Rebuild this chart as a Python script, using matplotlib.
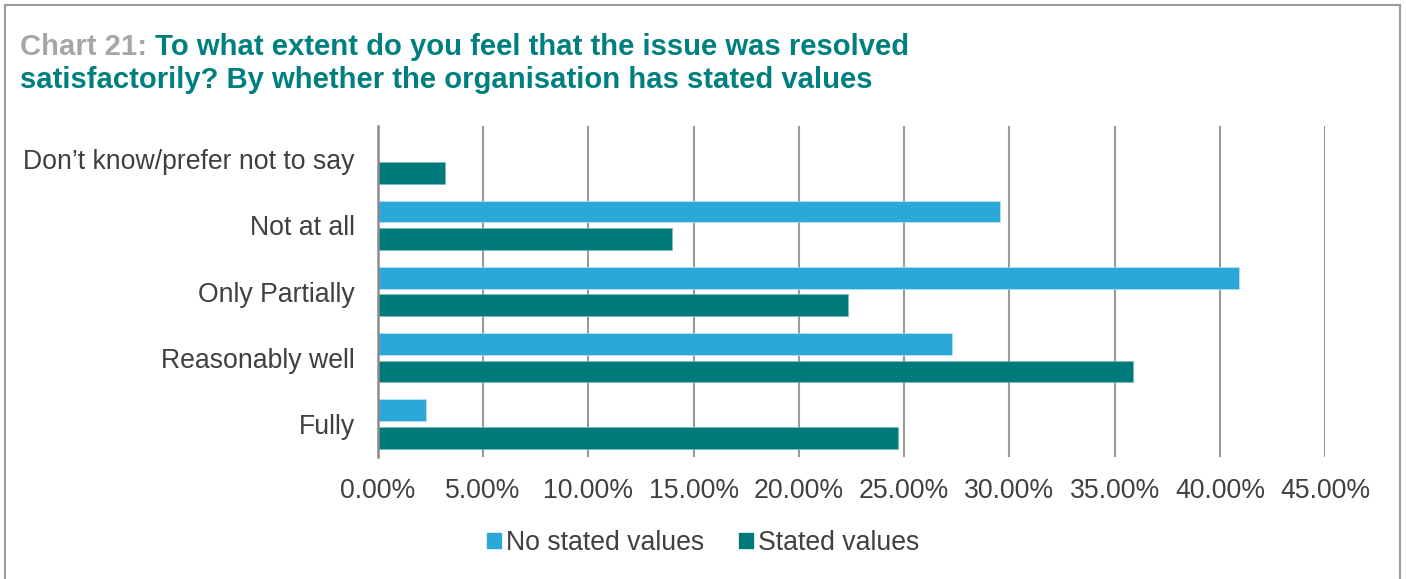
import matplotlib
matplotlib.use('Agg')
import matplotlib.pyplot as plt
import numpy as np
from matplotlib.patches import Patch, Rectangle
from matplotlib.ticker import FuncFormatter

plt.rcParams['font.family'] = ['Liberation Sans', 'DejaVu Sans']

categories = ['Don\u2019t know/prefer not to say', 'Not at all', 'Only Partially',
              'Reasonably well', 'Fully']
no_stated = [0.0, 29.55, 40.91, 27.28, 2.29]
stated = [3.21, 13.96, 22.32, 35.85, 24.71]
series_names = ['No stated values', 'Stated values']
x_ticks = [0, 5, 10, 15, 20, 25, 30, 35, 40, 45]

BLUE = '#2AA8D8'
TEAL = '#007B7B'
GRID = '#9A9A9A'
TEXT = '#404040'

fig = plt.figure(figsize=(14.06, 5.79), dpi=100)
ax = fig.add_axes([377.7 / 1406, 1 - 457 / 579, 947.7 / 1406, 331 / 579])

y = np.arange(len(categories))
h = 0.328
off = 0.209
ax.barh(y - off, no_stated, height=h, color=BLUE, edgecolor='#bfe3f1', linewidth=0.5, zorder=3)
ax.barh(y + off, stated, height=h, color=TEAL, edgecolor='#7fb8b8', linewidth=0.5, zorder=3)

ax.set_xlim(0, 45)
ax.set_ylim(len(categories) - 0.5, -0.5)
ax.set_xticks(x_ticks)
ax.xaxis.set_major_formatter(FuncFormatter(lambda v, p: f'{v:.2f}%'))
ax.set_yticks(y)
ax.set_yticklabels(categories)
ax.tick_params(axis='both', length=0, labelsize=19.2, labelcolor=TEXT)
ax.tick_params(axis='y', pad=16.5)
ax.tick_params(axis='x', pad=15)
ax.grid(axis='x', color=GRID, linewidth=1.5, zorder=0)
for s in ['top', 'right', 'bottom']:
    ax.spines[s].set_visible(False)
ax.spines['left'].set_color('#8c8c8c')
ax.spines['left'].set_linewidth(1.8)
ax.spines['left'].set_zorder(4)

# two-colour heading
fig.canvas.draw()
renderer = fig.canvas.get_renderer()
tx, ty = 20 / 1406, 1 - 33 / 579
t1 = fig.text(tx, ty, 'Chart 21: ', color='#A6A6A6', fontsize=21.1, fontweight='bold', va='top')
w = t1.get_window_extent(renderer).width / fig.bbox.width
fig.text(tx + w, ty, 'To what extent do you feel that the issue was resolved',
         color='#007F7F', fontsize=21.1, fontweight='bold', va='top')
fig.text(tx, ty - 33 / 579, 'satisfactorily? By whether the organisation has stated values',
         color='#007F7F', fontsize=21.1, fontweight='bold', va='top')

handles = [Patch(color=BLUE), Patch(color=TEAL)]
fig.legend(handles, series_names, loc='center', bbox_to_anchor=(0.5, 1 - 543 / 579),
           ncol=2, frameon=False, fontsize=19.2, labelcolor=TEXT,
           handlelength=0.53, handleheight=0.53, handletextpad=0.2, columnspacing=1.3)

# outer frame
fig.patches.append(Rectangle((4.5 / 1406, -0.05), 1395 / 1406, 1.05 - 5 / 579,
                             transform=fig.transFigure, fill=False,
                             edgecolor='#9C9C9C', linewidth=1.5))

fig.savefig('out.png', dpi=100)
